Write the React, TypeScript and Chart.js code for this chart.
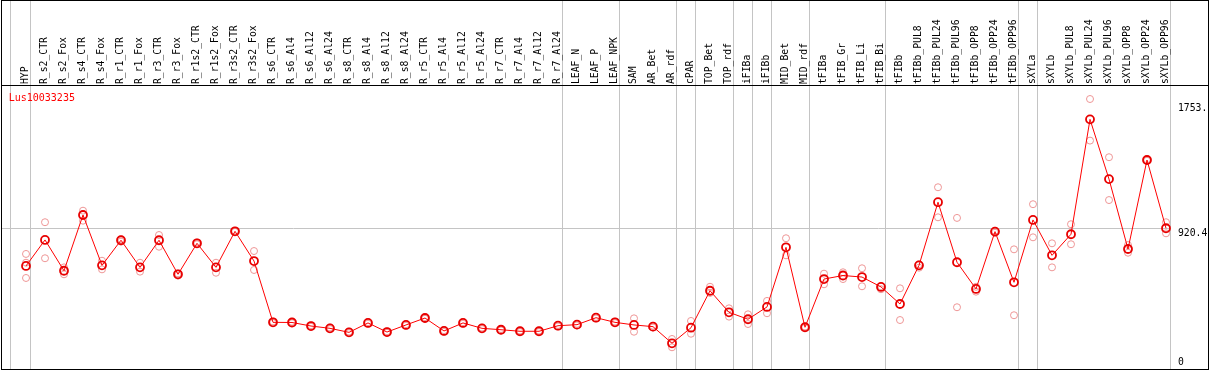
import { useEffect, useRef } from "react";
import { Chart, registerables } from "chart.js";

Chart.register(...registerables);

const geneTitle = "Lus10033235";

const categories = [
  "HYP", "R_s2_CTR", "R_s2_Fox", "R_s4_CTR", "R_s4_Fox", "R_r1_CTR", "R_r1_Fox", "R_r3_CTR", "R_r3_Fox",
  "R_r1s2_CTR", "R_r1s2_Fox", "R_r3s2_CTR", "R_r3s2_Fox", "R_s6_CTR", "R_s6_Al4", "R_s6_Al12", "R_s6_Al24",
  "R_s8_CTR", "R_s8_Al4", "R_s8_Al12", "R_s8_Al24", "R_r5_CTR", "R_r5_Al4", "R_r5_Al12", "R_r5_Al24",
  "R_r7_CTR", "R_r7_Al4", "R_r7_Al12", "R_r7_Al24", "LEAF_N", "LEAF_P", "LEAF_NPK", "SAM", "AR_Bet", "AR_rdf",
  "cPAR", "TOP_Bet", "TOP_rdf", "iFIBa", "iFIBb", "MID_Bet", "MID_rdf", "tFIBa", "tFIB_Gr", "tFIB_Li", "tFIB_Bi",
  "tFIBb", "tFIBb_PUL8", "tFIBb_PUL24", "tFIBb_PUL96", "tFIBb_OPP8", "tFIBb_OPP24", "tFIBb_OPP96",
  "sXYLa", "sXYLb", "sXYLb_PUL8", "sXYLb_PUL24", "sXYLb_PUL96", "sXYLb_OPP8", "sXYLb_OPP24", "sXYLb_OPP96",
];

const meanValues = [
  669, 838, 638, 1000, 673, 836, 660, 836, 615, 816, 660, 894, 701,
  303, 302, 279, 264, 238, 299, 240, 286, 331, 247, 299, 264, 255, 245, 245, 281,
  288, 333, 303, 286, 275, 167, 268, 508, 368, 323, 403, 790, 271,
  584, 607, 597, 533, 422, 673, 1083, 693, 520, 892, 563,
  968, 738, 875, 1621, 1233, 779, 1357, 914,
];

const replicateHigh = [
  747, 953, 660, 1028, 703, 842, 690, 870, 621, 822, 690, 898, 766,
  309, 307, 284, 270, 243, 304, 245, 291, 336, 252, 304, 269, 260, 250, 250, 286,
  293, 338, 308, 329, 281, 195, 312, 534, 394, 355, 442, 849, 276,
  619, 628, 654, 537, 524, 680, 1180, 981, 534, 898, 777,
  1070, 816, 940, 1753, 1375, 805, 1362, 953,
];

const replicateLow = [
  591, 719, 615, 963, 647, 827, 632, 794, 606, 810, 625, 890, 643,
  298, 297, 274, 259, 233, 294, 235, 281, 326, 242, 294, 259, 250, 240, 240, 276,
  283, 328, 298, 242, 269, 141, 229, 494, 340, 292, 362, 738, 266,
  550, 584, 537, 518, 318, 658, 985, 401, 502, 885, 349,
  855, 660, 810, 1483, 1097, 755, 1352, 881,
];

const replicateExtra: (number | null)[] = categories.map((_, i) => (i === 0 ? 690 : null));

const groupBoundaries = [-0.8, 0.25, 28.25, 31.25, 34.25, 35.25, 37.25, 38.25, 39.25, 41.25, 45.25, 52.25, 53.25, 60.25];

const yTickValues = [0, 920.4, 1753];
const yTickLabels = ["0", "920.4", "1753."];
const yReferenceLine = 920.4;

const FONT = '"DejaVu Sans Mono", "Liberation Mono", monospace';

export default function App() {
  const ref = useRef<HTMLCanvasElement>(null);

  useEffect(() => {
    document.body.style.margin = "0";
    const canvas = ref.current;
    if (!canvas) return;

    const decor = {
      id: "decor",
      beforeDatasetsDraw(chart: any) {
        const ctx = chart.ctx;
        const xs = chart.scales.x;
        const ys = chart.scales.y;
        const a = chart.chartArea;
        ctx.save();
        ctx.strokeStyle = "#c4c4c4";
        ctx.lineWidth = 1;
        const gy = Math.ceil(ys.getPixelForValue(yReferenceLine)) + 0.5;
        ctx.beginPath();
        ctx.moveTo(a.left, gy);
        ctx.lineTo(a.right, gy);
        ctx.stroke();
        for (const b of groupBoundaries) {
          const px = Math.floor(xs.getPixelForValue(b)) + 0.5;
          ctx.beginPath();
          ctx.moveTo(px, 0);
          ctx.lineTo(px, a.bottom);
          ctx.stroke();
        }
        ctx.restore();
      },
      afterDraw(chart: any) {
        const ctx = chart.ctx;
        const xs = chart.scales.x;
        const ys = chart.scales.y;
        const a = chart.chartArea;
        ctx.save();
        // frame
        ctx.strokeStyle = "#000";
        ctx.lineWidth = 1;
        ctx.strokeRect(1.5, 0.5, 1207, 369);
        ctx.beginPath();
        ctx.moveTo(1, a.top + 0.5);
        ctx.lineTo(1209, a.top + 0.5);
        ctx.stroke();

        // category labels
        ctx.fillStyle = "#000";
        ctx.font = `9.75px ${FONT}`;
        ctx.textAlign = "left";
        ctx.textBaseline = "alphabetic";
        categories.forEach((c, i) => {
          const px = xs.getPixelForValue(i);
          ctx.save();
          ctx.translate(px + 1.5, a.top - 1);
          ctx.rotate(-Math.PI / 2);
          ctx.fillText(c, 0, 0);
          ctx.restore();
        });

        // y tick labels
        yTickValues.forEach((v, i) => {
          const py = ys.getPixelForValue(v);
          let base;
          if (i === 0) base = py - 4;
          else if (i === 1) base = py + 8.5;
          else base = py + 12;
          ctx.fillText(yTickLabels[i], a.right + 7, base);
        });

        // title
        ctx.fillStyle = "#ff0000";
        ctx.font = `10px ${FONT}`;
        ctx.fillText(geneTitle, 8.7, 101);
        ctx.restore();
      },
    };

    const toPts = (arr: (number | null)[]) =>
      arr.map((v, i) => ({ x: i, y: v })).filter((p) => p.y !== null);

    const repStyle = {
      showLine: false,
      pointRadius: 3.5,
      pointBorderWidth: 1,
      pointBorderColor: "rgb(238,150,150)",
      pointBackgroundColor: "rgba(0,0,0,0)",
      borderColor: "rgb(238,150,150)",
      order: 1,
    };

    const chart = new Chart(canvas, {
      type: "line",
      data: {
        datasets: [
          {
            label: "mean",
            data: meanValues.map((v, i) => ({ x: i, y: v })),
            borderColor: "#ff0000",
            borderWidth: 1,
            pointRadius: 4,
            pointBorderWidth: 1.8,
            pointBorderColor: "#e80000",
            pointBackgroundColor: "rgba(0,0,0,0)",
            tension: 0,
            order: 0,
          },
          { label: "rep1", data: toPts(replicateHigh), ...repStyle },
          { label: "rep2", data: toPts(replicateLow), ...repStyle },
          { label: "rep3", data: toPts(replicateExtra), ...repStyle },
        ] as any,
      },
      options: {
        responsive: false,
        animation: false,
        devicePixelRatio: 1,
        layout: { autoPadding: false, padding: { left: 1, right: 38, top: 85, bottom: 1 } },
        scales: {
          x: { type: "linear", min: -1.3158, max: 60.263, display: false },
          y: { type: "linear", min: 0, max: 1844, display: false },
        },
        plugins: { legend: { display: false }, tooltip: { enabled: false } },
      },
      plugins: [decor],
    });

    return () => chart.destroy();
  }, []);

  return (
    <div style={{ position: "fixed", left: 0, top: 0, width: 1209, height: 370, background: "#fff" }}>
      <canvas ref={ref} width={1209} height={370} style={{ width: 1209, height: 370, display: "block" }} />
    </div>
  );
}
